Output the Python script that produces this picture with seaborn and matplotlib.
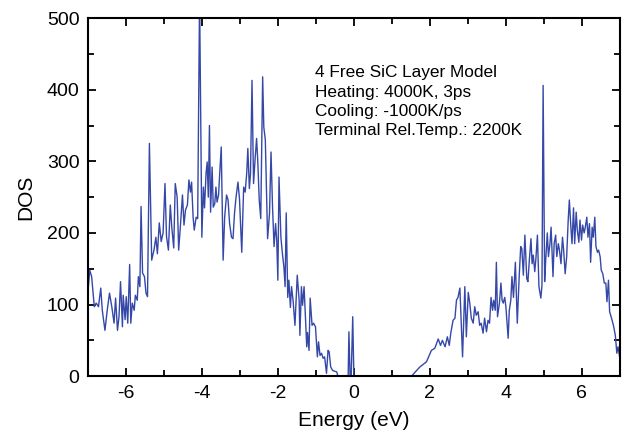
import numpy as np
import pandas as pd
import matplotlib
matplotlib.use('Agg')
import matplotlib.pyplot as plt
import seaborn as sns
from matplotlib.ticker import MultipleLocator

# values (energy in eV, DOS)
energy_valence = [-7.00, -6.95, -6.90, -6.83, -6.78, -6.72, -6.66, -6.62, -6.55, -6.49,
                  -6.43, -6.37, -6.31, -6.27, -6.22, -6.18, -6.14, -6.09, -6.07, -6.02,
                  -5.99, -5.95, -5.90, -5.87, -5.83, -5.78, -5.75, -5.70, -5.67, -5.63,
                  -5.60, -5.56, -5.51, -5.47, -5.43, -5.38, -5.32, -5.26, -5.21, -5.17,
                  -5.12, -5.07, -5.02, -4.97, -4.93, -4.88, -4.83, -4.79, -4.74, -4.70,
                  -4.65, -4.61, -4.56, -4.51, -4.47, -4.43, -4.38, -4.34, -4.30, -4.27,
                  -4.23, -4.20, -4.15, -4.11, -4.06, -4.00, -3.96, -3.93, -3.89, -3.86,
                  -3.83, -3.80, -3.77, -3.73, -3.70, -3.66, -3.63, -3.60, -3.56, -3.53,
                  -3.49, -3.44, -3.40, -3.35, -3.31, -3.27, -3.22, -3.18, -3.14, -3.10,
                  -3.05, -3.01, -2.95, -2.90, -2.86, -2.82, -2.79, -2.75, -2.72, -2.68,
                  -2.64, -2.60, -2.56, -2.53, -2.49, -2.45, -2.40, -2.37, -2.33, -2.27,
                  -2.22, -2.18, -2.14, -2.10, -2.06, -2.03, -2.00, -1.97, -1.92, -1.88,
                  -1.84, -1.81, -1.78, -1.74, -1.71, -1.67, -1.64, -1.60, -1.55, -1.49,
                  -1.44, -1.42, -1.38, -1.35, -1.31, -1.28, -1.24, -1.22, -1.18, -1.15,
                  -1.10, -1.06, -1.01, -0.96, -0.93, -0.89, -0.85, -0.81, -0.77, -0.72,
                  -0.68, -0.65, -0.61, -0.56, -0.51, -0.45, -0.42]
dos_valence = [116, 148, 139, 97, 102, 97, 123, 92, 64, 92,
               116, 97, 74, 109, 64, 83, 132, 69, 113, 79,
               111, 74, 156, 74, 102, 92, 113, 106, 139, 125,
               237, 144, 139, 116, 111, 325, 162, 176, 194, 171,
               214, 188, 200, 269, 195, 176, 239, 207, 179, 269,
               250, 176, 213, 253, 211, 232, 239, 274, 257, 271,
               222, 204, 222, 220, 530, 194, 264, 235, 283, 299,
               250, 350, 229, 292, 236, 241, 264, 243, 253, 283,
               320, 162, 222, 253, 246, 213, 194, 192, 228, 250,
               271, 248, 173, 264, 257, 283, 318, 262, 283, 413,
               269, 302, 332, 302, 246, 220, 418, 348, 330, 192,
               227, 313, 236, 181, 213, 190, 134, 278, 194, 171,
               152, 125, 228, 110, 134, 96, 125, 106, 71, 141,
               106, 57, 125, 99, 125, 88, 41, 61, 36, 109,
               71, 74, 69, 27, 48, 29, 32, 25, 27, 4,
               36, 34, 13, 8, 7, 6, 0]

energy_gap = [-0.15, -0.13, -0.10, -0.07, -0.03, 0.00, 1.52, 1.60]
dos_gap = [0, 62, 0, 0, 83, 0, 0, 5]

energy_conduction = [1.74, 1.91, 2.04, 2.13, 2.22, 2.28, 2.33, 2.40, 2.46, 2.51,
                     2.55, 2.61, 2.66, 2.70, 2.74, 2.79, 2.86, 2.92, 2.96, 3.01,
                     3.05, 3.09, 3.14, 3.18, 3.22, 3.27, 3.31, 3.35, 3.40, 3.44,
                     3.49, 3.53, 3.57, 3.61, 3.65, 3.68, 3.72, 3.75, 3.78, 3.83,
                     3.87, 3.90, 3.93, 3.97, 4.00, 4.06, 4.09, 4.13, 4.16, 4.20,
                     4.25, 4.30, 4.35, 4.39, 4.42, 4.46, 4.50, 4.55, 4.58, 4.62,
                     4.66, 4.69, 4.72, 4.76, 4.79, 4.83, 4.87, 4.92, 4.95, 4.98,
                     5.02, 5.05, 5.09, 5.12, 5.16, 5.19, 5.24, 5.27, 5.31, 5.34,
                     5.38, 5.41, 5.45, 5.49, 5.52, 5.56, 5.60, 5.64, 5.67, 5.71,
                     5.74, 5.78, 5.81, 5.85, 5.88, 5.92, 5.95, 5.99, 6.02, 6.06,
                     6.09, 6.13, 6.16, 6.20, 6.23, 6.27, 6.30, 6.34, 6.37, 6.41,
                     6.44, 6.48, 6.51, 6.55, 6.59, 6.63, 6.66, 6.70, 6.73, 6.78,
                     6.83, 6.88, 6.92, 6.95, 7.00]
dos_conduction = [13, 20, 36, 39, 52, 43, 50, 41, 55, 43,
                  60, 78, 81, 106, 110, 123, 27, 125, 55, 117,
                  102, 81, 74, 97, 85, 90, 71, 74, 60, 81,
                  62, 78, 74, 110, 92, 106, 92, 159, 83, 102,
                  130, 106, 102, 110, 97, 53, 92, 106, 139, 110,
                  159, 74, 139, 181, 178, 141, 197, 136, 132, 164,
                  192, 157, 169, 146, 164, 197, 125, 109, 127, 406,
                  132, 164, 200, 167, 185, 208, 139, 185, 197, 167,
                  185, 176, 157, 194, 176, 143, 167, 218, 246, 208,
                  185, 235, 185, 229, 204, 187, 218, 190, 211, 200,
                  208, 222, 194, 213, 159, 208, 194, 222, 181, 173,
                  176, 167, 148, 143, 130, 130, 104, 134, 90, 81,
                  71, 57, 32, 41, 25]

label_lines = ['4 Free SiC Layer Model',
               'Heating: 4000K, 3ps',
               'Cooling: -1000K/ps',
               'Terminal Rel.Temp.: 2200K']

df = pd.DataFrame({
    'Energy': energy_valence + energy_gap + energy_conduction,
    'DOS': dos_valence + dos_gap + dos_conduction,
})

sns.set_style('ticks')
plt.rcParams['font.family'] = ['Liberation Sans', 'DejaVu Sans']
plt.rcParams['axes.unicode_minus'] = False

fig = plt.figure(figsize=(6.23, 4.41), dpi=100)
ax = fig.add_axes([0.141, 0.147, 0.854, 0.812])

sns.lineplot(data=df, x='Energy', y='DOS', sort=False, estimator=None,
             color='#3548a8', linewidth=1.0, ax=ax)

ax.set_xlim(-7, 7)
ax.set_ylim(0, 500)
ax.xaxis.set_major_locator(MultipleLocator(2))
ax.xaxis.set_minor_locator(MultipleLocator(1))
ax.yaxis.set_major_locator(MultipleLocator(100))
ax.yaxis.set_minor_locator(MultipleLocator(50))
ax.tick_params(which='both', direction='in', top=True, right=True,
               width=1.3, labelsize=14, colors='black')
ax.tick_params(which='major', length=6, pad=6)
ax.tick_params(which='minor', length=4)
for s in ax.spines.values():
    s.set_linewidth(1.5)
    s.set_color('black')

ax.set_xlabel('Energy (eV)', fontsize=15, labelpad=7, color='black')
ax.set_ylabel('DOS', fontsize=15, labelpad=8, color='black')

ax.text(0.427, 0.868, '\n'.join(label_lines), transform=ax.transAxes,
        fontsize=12.4, va='top', ha='left', linespacing=1.36, color='black')

fig.savefig('out.png', dpi=100)
